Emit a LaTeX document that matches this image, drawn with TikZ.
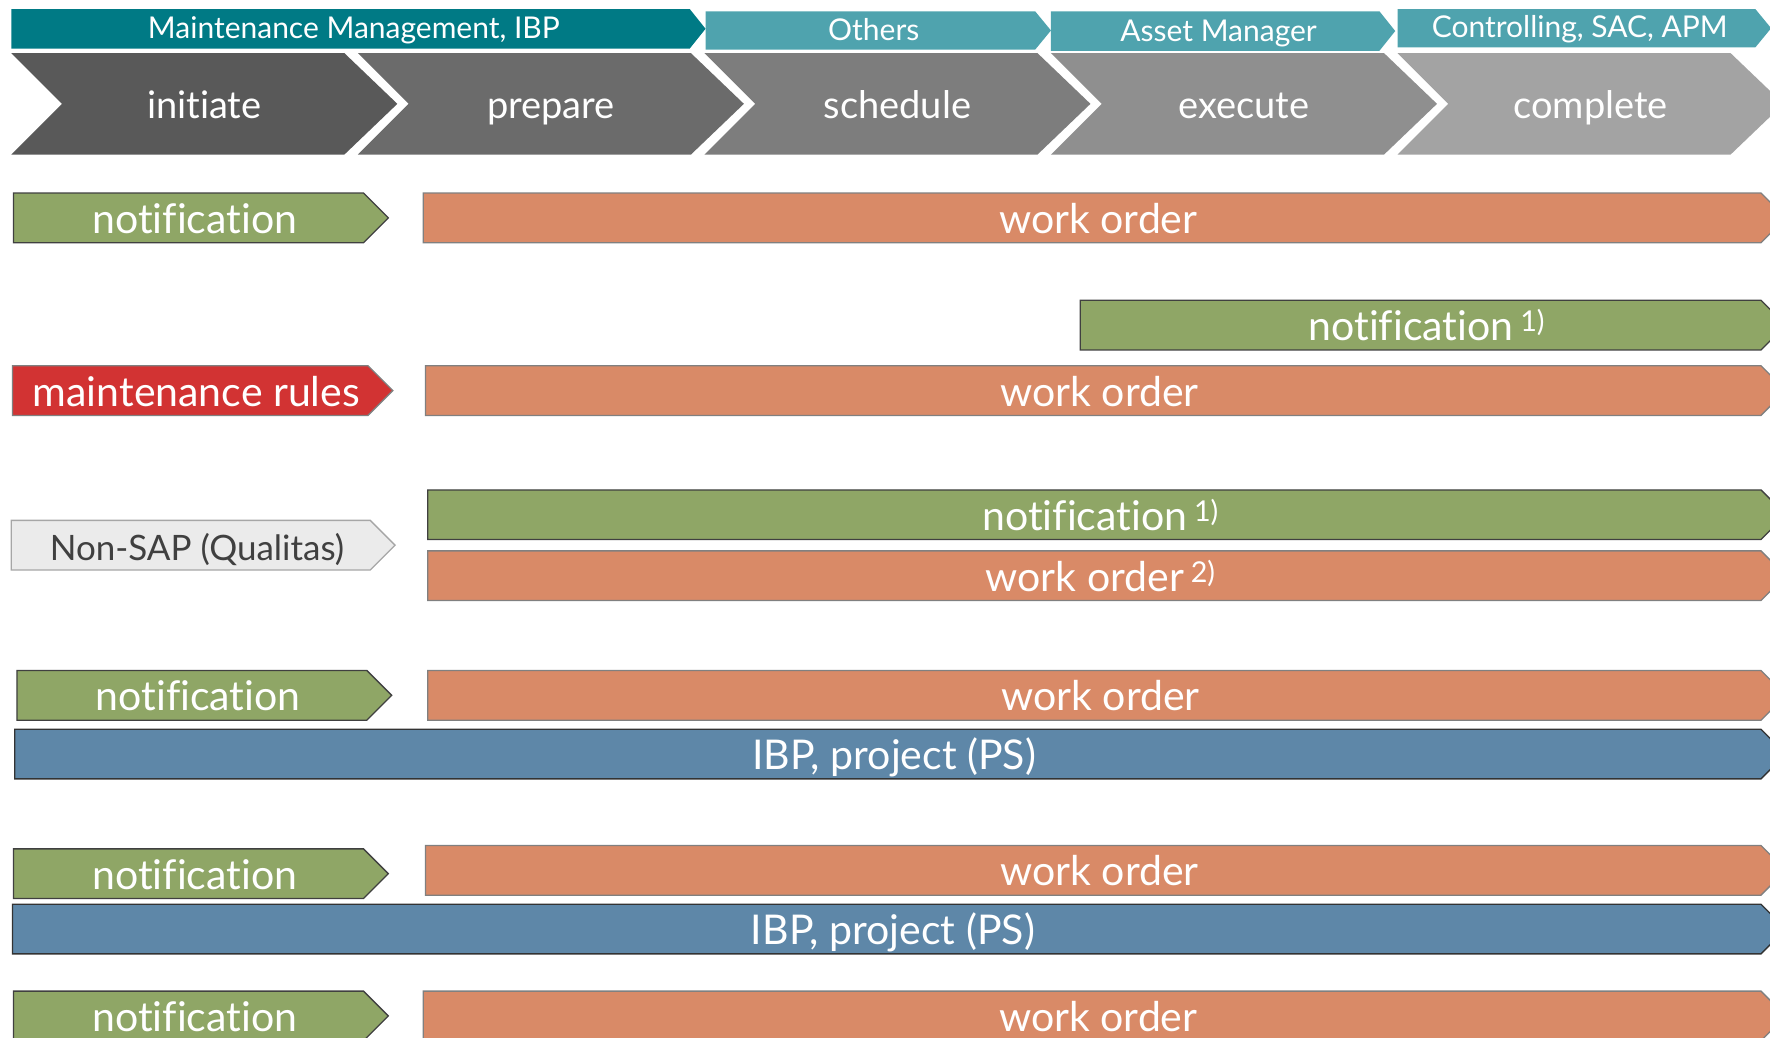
\documentclass[tikz,border=0pt]{standalone}
\usepackage{fontspec}
\setmainfont{Lato}[Ligatures=NoCommon]
\definecolor{tealD}{HTML}{007A85}
\definecolor{tealL}{HTML}{4FA3AE}
\definecolor{chA}{HTML}{595959}
\definecolor{chB}{HTML}{6B6B6B}
\definecolor{chC}{HTML}{7D7D7D}
\definecolor{chD}{HTML}{8F8F8F}
\definecolor{chE}{HTML}{A3A3A3}
\definecolor{grn}{HTML}{8FA666}
\definecolor{org}{HTML}{D98A67}
\definecolor{redR}{HTML}{D23333}
\definecolor{bluB}{HTML}{5E87A8}
\definecolor{nsap}{HTML}{EBEBEB}
\definecolor{nsapB}{HTML}{A6A6A6}
\definecolor{txtD}{HTML}{404040}
\tikzset{
  hdrtext/.style={text=white,font=\fontsize{30}{34}\selectfont,inner sep=0pt,anchor=base},
  chevtext/.style={text=white,font=\fontsize{38}{44}\selectfont,inner sep=0pt,anchor=base},
  bartext/.style={text=white,font=\fontsize{41}{46}\selectfont,inner sep=0pt,anchor=base},
  greenbar/.style={fill=grn,draw=black!75,line width=1.3pt},
  orangebar/.style={fill=org,draw=black!50,line width=1.3pt},
  redbar/.style={fill=redR,draw=black!50,line width=1.3pt},
  bluebar/.style={fill=bluB,draw=black!80,line width=1.3pt},
  nsapbar/.style={fill=nsap,draw=nsapB,line width=1.3pt},
}
% header box: name, x1, y1, x2, y2, fill, text, baseline
\newcommand\hdrbox[8]{%
  \fill[#6] (#2,#3) -- (#4,#3) -- ({#4+14},{(#3+#5)/2}) -- (#4,#5) -- (#2,#5) -- cycle;
  \node[hdrtext] (#1) at ({(#2+#4)/2+3},#8) {#7};}
% chevron: name, x0, fill, text
\newcommand\chevbox[4]{%
  \fill[#3] (#2,47) -- ({#2+295},47) -- ({#2+342},92) -- ({#2+295},137) -- (#2,137) -- ({#2+45},92) -- cycle;
  \node[chevtext] (#1) at ({#2+171},105) {#4};}
% bar: name, x1, y1, x2, y2, style, text, text style
\newcommand\pbar[8]{%
  \path[#6] (#2,#3) -- (#4,#3) -- ({#4+22},{(#3+#5)/2}) -- (#4,#5) -- (#2,#5) -- cycle;
  \node[bartext,#8] (#1) at ({(#2+#4+11)/2},{(#3+#5)/2+13.8}) {#7};}
\begin{document}
\begin{tikzpicture}[x=1.1288pt,y=-1.1288pt]
\useasboundingbox (0,0) rectangle (1568,918.7);
\clip (0,0) rectangle (1568,918.7);
% header band
\hdrbox{hA}{10}{8}{611}{43}{tealD}{Maintenance Management, IBP}{34}
\hdrbox{hB}{625}{10}{917}{44}{tealL}{Others}{35.5}
\hdrbox{hC}{931}{10}{1222}{45}{tealL}{Asset Manager}{37}
\hdrbox{hD}{1238}{8}{1555}{42}{tealL}{Controlling, SAC, APM}{33.5}
% phase chevrons
\chevbox{cA}{10}{chA}{initiate}
\chevbox{cB}{317}{chB}{prepare}
\chevbox{cC}{624}{chC}{schedule}
\chevbox{cD}{931}{chD}{execute}
\chevbox{cE}{1238}{chE}{complete}
% row 1
\pbar{nA}{12}{171}{322}{215}{greenbar}{notification}{}
\pbar{wA}{375}{171}{1560}{215}{orangebar}{work order}{}
% row 2
\pbar{nB}{957}{266}{1560}{310}{greenbar}{notification\,\textsuperscript{1)}}{}
% row 3
\pbar{mR}{11}{324}{326}{368}{redbar}{maintenance rules}{}
\pbar{wB}{377}{324}{1560}{368}{orangebar}{work order}{}
% row 4
\pbar{nS}{10}{461}{328}{505}{nsapbar}{Non-SAP (Qualitas)}{text=txtD,font=\fontsize{35}{40}\selectfont}
\pbar{nC}{379}{434}{1560}{478}{greenbar}{notification\,\textsuperscript{1)}}{}
\pbar{wC}{379}{488}{1560}{532}{orangebar}{work order\,\textsuperscript{2)}}{}
% row 5
\pbar{nD}{15}{594}{325}{638}{greenbar}{notification}{}
\pbar{wD}{379}{594}{1560}{638}{orangebar}{work order}{}
\pbar{iA}{13}{646}{1560}{690}{bluebar}{IBP, project (PS)}{}
% row 6
\pbar{nE}{12}{752}{322}{796}{greenbar}{notification}{}
\pbar{wE}{377}{749}{1560}{793}{orangebar}{work order}{}
\pbar{iB}{11}{801}{1560}{845}{bluebar}{IBP, project (PS)}{}
% row 7
\pbar{nF}{12}{878}{322}{922}{greenbar}{notification}{}
\pbar{wF}{375}{878}{1560}{922}{orangebar}{work order}{}
\end{tikzpicture}
\end{document}
